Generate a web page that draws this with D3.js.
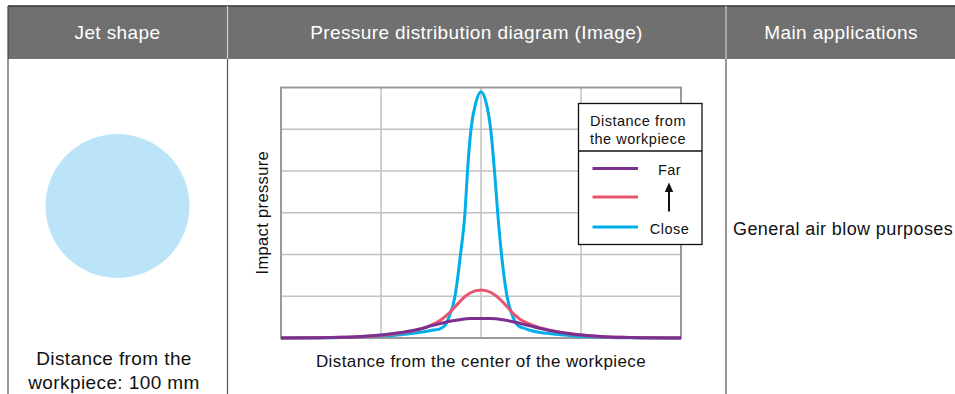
<!DOCTYPE html>
<html>
<head>
<meta charset="utf-8">
<script src="https://cdn.jsdelivr.net/npm/d3@7"></script>
<style>
  html, body { margin: 0; padding: 0; background: #fff; }
  svg { display: block; font-family: "Liberation Sans", Arial, Helvetica, sans-serif; }
</style>
</head>
<body>
<svg id="chart" width="955" height="394"></svg>
<script>
// Table headings and cell texts
const headers = ["Jet shape", "Pressure distribution diagram (Image)", "Main applications"];
const jetCaption = ["Distance from the", "workpiece: 100 mm"];
const applicationText = "General air blow purposes";

// Axis titles and legend
const yTitle = "Impact pressure";
const xTitle = "Distance from the center of the workpiece";
const legendTitle = ["Distance from", "the workpiece"];
const legendLabels = ["Far", "Close"];

// Grid ticks (relative units)
const xTicks = [-2, -1, 0, 1, 2];
const yTicks = [0, 1, 2, 3, 4, 5, 6];

// Pressure profiles: offset from centre vs. relative impact pressure
const closeX = [-2, -1.6, -1.3, -1.0, -0.8, -0.6, -0.5, -0.41, -0.36, -0.32, -0.26, -0.205, -0.16, -0.135, -0.10, -0.05, 0,
                0.05, 0.097, 0.135, 0.167, 0.205, 0.26, 0.32, 0.37, 0.45, 0.5, 0.6, 0.8, 1.0, 1.2, 1.5, 2];
const closeY = [0, 0.005, 0.02, 0.045, 0.08, 0.14, 0.18, 0.22, 0.3, 0.5, 1.0, 2.0, 3.0, 4.0, 5.0, 5.65, 5.9,
                5.65, 5.0, 4.0, 3.0, 2.0, 1.0, 0.5, 0.3, 0.22, 0.18, 0.13, 0.08, 0.04, 0.02, 0.005, 0];
const middleX = [-2, -1.6, -1.4, -1.2, -1.0, -0.8, -0.6, -0.5, -0.41, -0.33, -0.25, -0.18, -0.1, 0,
                 0.1, 0.18, 0.25, 0.32, 0.39, 0.5, 0.6, 0.8, 1.0, 1.2, 1.4, 1.6, 2];
const middleY = [0, 0.005, 0.015, 0.03, 0.06, 0.12, 0.22, 0.31, 0.42, 0.57, 0.77, 0.95, 1.09, 1.15,
                 1.09, 0.95, 0.78, 0.59, 0.45, 0.32, 0.24, 0.13, 0.07, 0.03, 0.015, 0.005, 0];
const farX = [-2, -1.6, -1.4, -1.2, -1.0, -0.8, -0.6, -0.5, -0.4, -0.3, -0.2, -0.1, 0,
              0.1, 0.2, 0.3, 0.4, 0.5, 0.6, 0.8, 1.0, 1.2, 1.4, 1.6, 2];
const farY = [0, 0.005, 0.015, 0.035, 0.07, 0.13, 0.22, 0.29, 0.35, 0.405, 0.445, 0.466, 0.47,
              0.466, 0.445, 0.4, 0.345, 0.285, 0.225, 0.13, 0.07, 0.035, 0.015, 0.005, 0];

const colors = { Close: "#00aeea", Middle: "#e8546e", Far: "#7b2f8e" };

const svg = d3.select("#chart");

// ---- Table frame ----
const colEdges = [8, 227.5, 726, 960];
const headTop = 6, headBottom = 59, H = 394;

svg.append("rect").attr("x", colEdges[0]).attr("y", headTop)
  .attr("width", 955 - colEdges[0]).attr("height", headBottom - headTop)
  .attr("fill", "#707070");
svg.append("line").attr("x1", colEdges[0]).attr("x2", 955).attr("y1", headTop).attr("y2", headTop)
  .attr("stroke", "#333").attr("stroke-width", 1.5);

// column separators: light inside the heading, dark in the body
colEdges.slice(1, 3).forEach(xp => {
  svg.append("line").attr("x1", xp).attr("x2", xp).attr("y1", headTop).attr("y2", headBottom)
    .attr("stroke", "#cfcfcf").attr("stroke-width", 1.2);
});
colEdges.slice(0, 3).forEach(xp => {
  svg.append("line").attr("x1", xp).attr("x2", xp).attr("y1", headBottom).attr("y2", H)
    .attr("stroke", "#555").attr("stroke-width", 1.2);
});
svg.append("line").attr("x1", colEdges[0]).attr("x2", colEdges[0]).attr("y1", headTop).attr("y2", headBottom)
  .attr("stroke", "#444").attr("stroke-width", 1.2);

const headCenters = [117.5, 476.5, 841];
svg.selectAll("text.head").data(headers).join("text")
  .attr("class", "head")
  .attr("x", (d, i) => headCenters[i]).attr("y", 38.5)
  .attr("text-anchor", "middle")
  .attr("fill", "#fff").attr("font-size", 19).attr("letter-spacing", 0.4)
  .text(d => d);

// ---- Jet shape cell ----
svg.append("circle").attr("cx", 117.5).attr("cy", 206).attr("r", 72)
  .attr("fill", "#bce4f8");
svg.selectAll("text.cap").data(jetCaption).join("text")
  .attr("class", "cap")
  .attr("x", 114).attr("y", (d, i) => 364.5 + i * 24)
  .attr("text-anchor", "middle")
  .attr("fill", "#111").attr("font-size", 19).attr("letter-spacing", 0.4)
  .text(d => d);

// ---- Applications cell ----
svg.append("text").attr("x", 733).attr("y", 234.5)
  .attr("fill", "#111").attr("font-size", 18).attr("letter-spacing", 0.4)
  .text(applicationText);

// ---- Pressure diagram ----
const plot = { left: 281, right: 681, top: 87.5, bottom: 338 };
const x = d3.scaleLinear().domain([-2, 2]).range([plot.left, plot.right]);
const y = d3.scaleLinear().domain([0, 6]).range([plot.bottom, plot.top]);

const g = svg.append("g");
g.append("rect").attr("x", plot.left).attr("y", plot.top)
  .attr("width", plot.right - plot.left).attr("height", plot.bottom - plot.top)
  .attr("fill", "#fff");

// grid
g.append("g").selectAll("line").data(xTicks.slice(1, -1)).join("line")
  .attr("x1", d => x(d)).attr("x2", d => x(d))
  .attr("y1", plot.top).attr("y2", plot.bottom)
  .attr("stroke", "#c2c2c2").attr("stroke-width", 1.5);
g.append("g").selectAll("line").data(yTicks.slice(1, -1)).join("line")
  .attr("x1", plot.left).attr("x2", plot.right)
  .attr("y1", d => y(d)).attr("y2", d => y(d))
  .attr("stroke", "#c2c2c2").attr("stroke-width", 1.5);
g.append("rect").attr("x", plot.left).attr("y", plot.top)
  .attr("width", plot.right - plot.left).attr("height", plot.bottom - plot.top)
  .attr("fill", "none").attr("stroke", "#9a9a9a").attr("stroke-width", 2);

// curves
const series = [
  { name: "Close", xs: closeX, ys: closeY },
  { name: "Middle", xs: middleX, ys: middleY },
  { name: "Far", xs: farX, ys: farY }
];
const line = d3.line()
  .x(d => x(d[0])).y(d => y(d[1]))
  .curve(d3.curveMonotoneX);
g.selectAll("path.curve").data(series).join("path")
  .attr("class", "curve")
  .attr("d", s => line(s.xs.map((v, i) => [v, s.ys[i]])))
  .attr("fill", "none")
  .attr("stroke", s => colors[s.name])
  .attr("stroke-width", 3)
  .attr("stroke-linejoin", "round");

// axis titles
svg.append("text")
  .attr("transform", `translate(267.5,${(plot.top + plot.bottom) / 2}) rotate(-90)`)
  .attr("text-anchor", "middle")
  .attr("fill", "#111").attr("font-size", 16.5).attr("letter-spacing", 0.35)
  .text(yTitle);
svg.append("text").attr("x", 481).attr("y", 366.5)
  .attr("text-anchor", "middle")
  .attr("fill", "#111").attr("font-size", 17).attr("letter-spacing", 0.4)
  .text(xTitle);

// legend
const lg = { left: 578.5, top: 103.5, width: 123.5, height: 141, divider: 151 };
svg.append("rect").attr("x", lg.left).attr("y", lg.top)
  .attr("width", lg.width).attr("height", lg.height)
  .attr("fill", "#fff").attr("stroke", "#111").attr("stroke-width", 1.3);
svg.append("line").attr("x1", lg.left).attr("x2", lg.left + lg.width)
  .attr("y1", lg.divider).attr("y2", lg.divider)
  .attr("stroke", "#111").attr("stroke-width", 1.3);
svg.selectAll("text.lgt").data(legendTitle).join("text")
  .attr("class", "lgt")
  .attr("x", 638).attr("y", (d, i) => 125.8 + i * 17.8)
  .attr("text-anchor", "middle")
  .attr("fill", "#111").attr("font-size", 14.5).attr("letter-spacing", 0.5)
  .text(d => d);

const legendRows = ["Far", "Middle", "Close"];
const rowY = [168.5, 197, 227];
svg.selectAll("line.lgl").data(legendRows).join("line")
  .attr("class", "lgl")
  .attr("x1", 592.5).attr("x2", 638)
  .attr("y1", (d, i) => rowY[i]).attr("y2", (d, i) => rowY[i])
  .attr("stroke", d => colors[d]).attr("stroke-width", 3);

svg.selectAll("text.lgl").data(legendLabels).join("text")
  .attr("class", "lgl")
  .attr("x", 669.5).attr("y", (d, i) => i === 0 ? 174.5 : 234.2)
  .attr("text-anchor", "middle")
  .attr("fill", "#111").attr("font-size", 14.5).attr("letter-spacing", 0.5)
  .text(d => d);

// arrow from Close towards Far
svg.append("line").attr("x1", 669).attr("x2", 669).attr("y1", 211.5).attr("y2", 190)
  .attr("stroke", "#111").attr("stroke-width", 2);
svg.append("path")
  .attr("d", d3.line()([[669, 182.5], [664.8, 192], [673.2, 192]]) + "Z")
  .attr("fill", "#111");
</script>
</body>
</html>
